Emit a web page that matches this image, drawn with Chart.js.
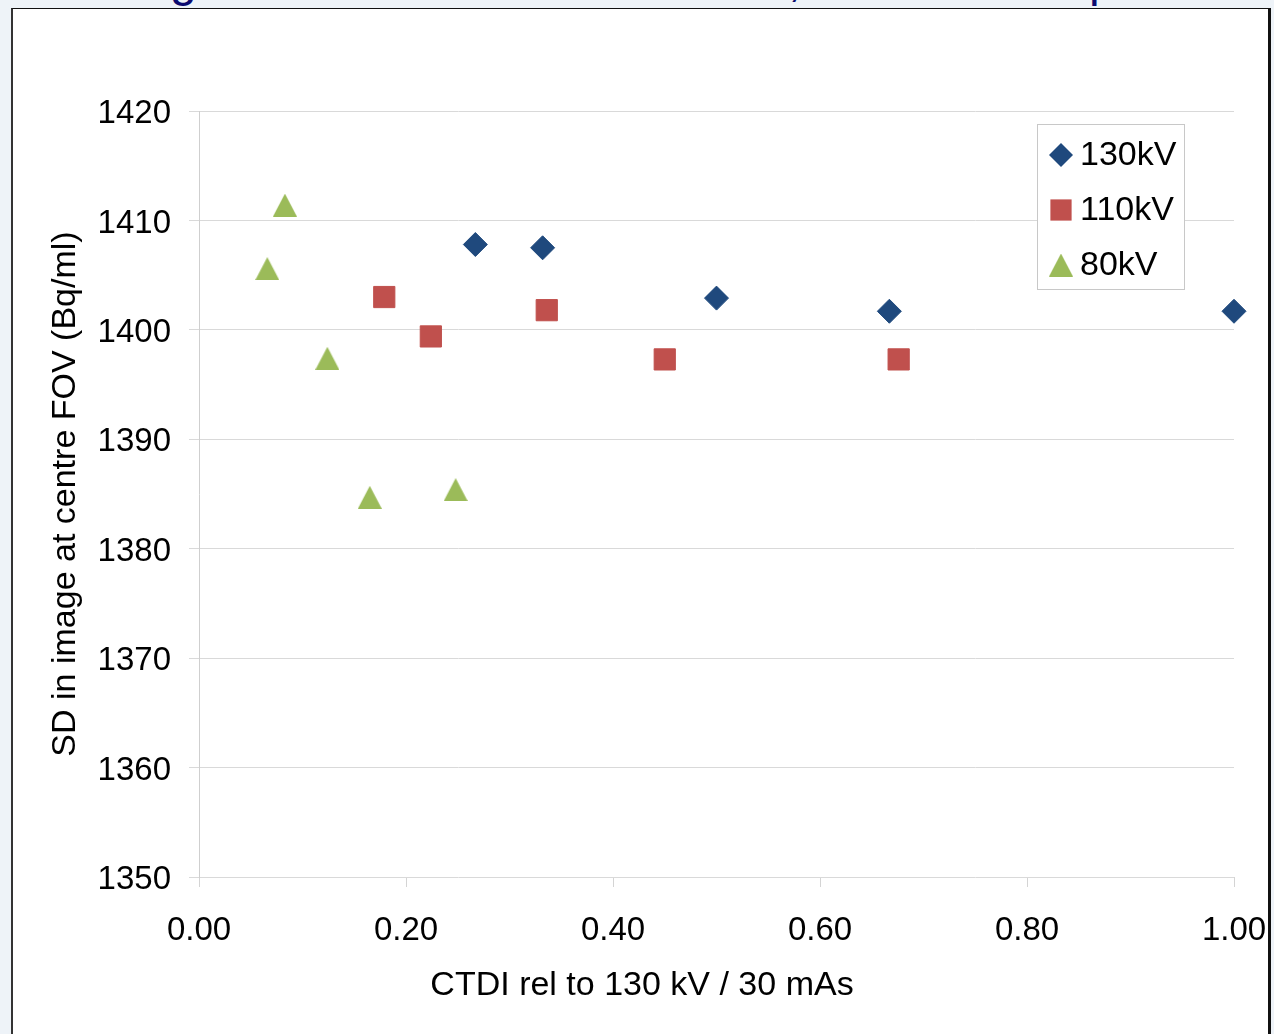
<!DOCTYPE html>
<html>
<head>
<meta charset="utf-8">
<script src="https://cdn.jsdelivr.net/npm/chart.js@4.4.1/dist/chart.umd.min.js"></script>
<style>
  html, body { margin: 0; padding: 0; background: #eef3f8; overflow: hidden; }
  body { width: 1274px; height: 1034px; position: relative; }
  .frag { position: absolute; top: -44px; font: 48px "Liberation Sans", Arial, sans-serif; line-height: 48px; color: #0b0b70; }
  #box {
    position: absolute; left: 11px; top: 8px; width: 1255px; height: 1040px;
    border-left: 2px solid #333; border-top: 1px solid #111; border-right: 3px solid #111;
    background: #fff; overflow: hidden;
  }
  #box canvas { position: absolute; left: 0; top: 0; }
</style>
</head>
<body>
<!-- descenders of the slide title, cut off by the window -->
<span class="frag" style="left:170px">g</span>
<span class="frag" style="left:788px">,</span>
<span class="frag" style="left:1089px">p</span>
<div id="box"><canvas id="chart" width="1320" height="1026"></canvas></div>
<script>
// --- data ---
const xTicks = [0, 0.2, 0.4, 0.6, 0.8, 1.0];
const yTicks = [1350, 1360, 1370, 1380, 1390, 1400, 1410, 1420];

const x130 = [0.267, 0.332, 0.500, 0.667, 1.000];
const y130 = [1407.8, 1407.5, 1402.9, 1401.7, 1401.7];

const x110 = [0.179, 0.224, 0.336, 0.450, 0.676];
const y110 = [1403.0, 1399.4, 1401.8, 1397.3, 1397.3];

const x80 = [0.083, 0.066, 0.124, 0.165, 0.248];
const y80 = [1411.4, 1405.6, 1397.4, 1384.7, 1385.4];

const xTitle = 'CTDI rel to 130 kV / 30 mAs';
const yTitle = 'SD in image at centre FOV (Bq/ml)';

const FONT = '"Liberation Sans", Arial, sans-serif';

function toPoints(xs, ys) {
    return xs.map((x, i) => ({ x: x, y: ys[i] }));
}

// Excel style triangle marker (not equilateral)
function makeTriangle(color, w, h) {
    const c = document.createElement('canvas');
    c.width = w; c.height = h;
    const g = c.getContext('2d');
    g.fillStyle = color;
    g.beginPath();
    g.moveTo(w / 2, 0);
    g.lineTo(w, h);
    g.lineTo(0, h);
    g.closePath();
    g.fill();
    return c;
}

const triangle = makeTriangle('#9BBB59', 24, 23);

function drawMarker(ctx, ds, cx, cy) {
    const style = ds.pointStyle;
    const r = ds.pointRadius;
    ctx.fillStyle = ds.backgroundColor;
    if (style instanceof HTMLCanvasElement) {
        ctx.drawImage(style, cx - style.width / 2, cy - style.height / 2);
    } else if (style === 'rectRot') {
        ctx.beginPath();
        ctx.moveTo(cx, cy - r);
        ctx.lineTo(cx + r, cy);
        ctx.lineTo(cx, cy + r);
        ctx.lineTo(cx - r, cy);
        ctx.closePath();
        ctx.fill();
    } else {
        const s = Math.SQRT1_2 * r;
        ctx.fillRect(cx - s, cy - s, 2 * s, 2 * s);
    }
}

// legend box inside the plot (top right) + x title centred on the whole frame
const extras = {
    id: 'extras',
    afterDraw(chart) {
        const { ctx, chartArea } = chart;
        const x0 = chartArea.right - 197, y0 = chartArea.top + 13;
        const w = 147, h = 165;
        ctx.save();
        ctx.fillStyle = '#fff';
        ctx.fillRect(x0, y0, w, h);
        ctx.strokeStyle = '#c8c8c8';
        ctx.lineWidth = 1;
        ctx.strokeRect(x0 + 0.5, y0 + 0.5, w, h);
        ctx.font = '34px ' + FONT;
        ctx.textBaseline = 'middle';
        ctx.textAlign = 'left';
        chart.data.datasets.forEach((ds, i) => {
            const cy = y0 + 31 + i * 55;
            drawMarker(ctx, ds, x0 + 24, cy);
            ctx.fillStyle = '#000';
            ctx.fillText(ds.label, x0 + 43, cy + 1);
        });

        ctx.textAlign = 'center';
        ctx.fillStyle = '#000';
        ctx.fillText(xTitle, 629, chartArea.bottom + 109);
        ctx.restore();
    }
};

Chart.defaults.font.family = FONT;
Chart.defaults.color = '#000';

new Chart(document.getElementById('chart').getContext('2d'), {
    type: 'scatter',
    data: {
        datasets: [
            {
                label: '130kV',
                data: toPoints(x130, y130),
                pointStyle: 'rectRot',
                pointRadius: 12,
                pointHoverRadius: 12,
                backgroundColor: '#1F497D',
                borderColor: '#1F497D',
                borderWidth: 1,
                clip: false
            },
            {
                label: '110kV',
                data: toPoints(x110, y110),
                pointStyle: 'rect',
                pointRadius: 15,
                pointHoverRadius: 15,
                backgroundColor: '#C0504D',
                borderColor: '#C0504D',
                borderWidth: 1,
                clip: false
            },
            {
                label: '80kV',
                data: toPoints(x80, y80),
                pointStyle: triangle,
                pointRadius: 12,
                pointHoverRadius: 12,
                backgroundColor: '#9BBB59',
                borderColor: '#9BBB59',
                borderWidth: 0,
                clip: false
            }
        ]
    },
    options: {
        responsive: false,
        animation: false,
        layout: { padding: { top: 102, right: 99, left: 0, bottom: 0 } },
        plugins: {
            legend: { display: false },
            tooltip: { enabled: false }
        },
        scales: {
            x: {
                type: 'linear',
                min: xTicks[0],
                max: xTicks[xTicks.length - 1],
                afterFit: s => { s.height = 158; },
                afterBuildTicks: s => { s.ticks = xTicks.map(v => ({ value: v })); },
                ticks: {
                    padding: 24,
                    maxRotation: 0,
                    font: { size: 33 },
                    callback: v => Number(v).toFixed(2)
                },
                grid: { drawOnChartArea: false, drawTicks: true, tickLength: 10, color: '#d4d4d4' },
                border: { display: false },
                title: { display: false }
            },
            y: {
                type: 'linear',
                min: yTicks[0],
                max: yTicks[yTicks.length - 1],
                afterFit: s => { s.width = 186; },
                afterBuildTicks: s => { s.ticks = yTicks.map(v => ({ value: v })); },
                ticks: {
                    padding: 18,
                    labelOffset: 3,
                    font: { size: 33 },
                    callback: v => String(v)
                },
                grid: { color: '#d9d9d9', tickLength: 10 },
                border: { display: true, color: '#cfcfcf' },
                title: {
                    display: true,
                    text: yTitle,
                    font: { size: 34 },
                    padding: { top: 32, bottom: 0 }
                }
            }
        }
    },
    plugins: [extras]
});
</script>
</body>
</html>
